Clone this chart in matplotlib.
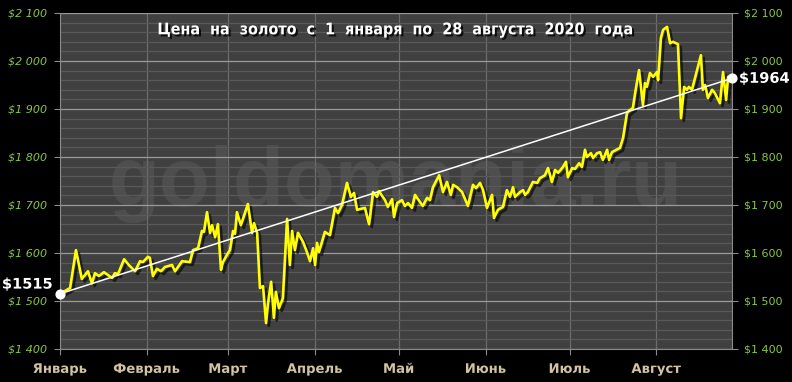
import numpy as np
import matplotlib
matplotlib.use("Agg")
import matplotlib.pyplot as plt
import matplotlib.patheffects as pe
from matplotlib.ticker import MultipleLocator, FuncFormatter

# days since 1 Jan 2020 and gold price, USD/oz
days = [0.0, 3.6, 5.7, 7.8, 10.0, 11.4, 12.5, 13.9, 15.7, 18.6, 19.6, 20.7, 22.9, 24.6,
        26.8, 28.6, 29.6, 31.4, 32.1, 33.2, 34.6, 36.1, 37.5, 40.0, 41.1, 43.6, 46.4,
        47.5, 49.3, 50.7, 51.4, 52.5, 53.6, 54.3, 55.4, 56.4, 57.5, 58.2, 60.0, 60.7,
        61.8, 62.5, 63.2, 64.6, 67.1, 68.6, 69.3, 70.4, 71.4, 72.5, 73.6, 74.3, 75.4,
        76.4, 77.1, 78.2, 79.6, 81.1, 82.1, 82.9, 83.9, 85.0, 86.8, 88.2, 89.3, 90.4,
        91.1, 91.8, 92.5, 94.6, 96.4, 98.2, 99.3, 100.7, 102.5, 103.9, 105.0, 106.1,
        108.9, 110.4, 111.8, 113.2, 113.9, 116.1, 117.1, 118.6, 119.3, 120.4, 122.1,
        123.2, 124.3, 125.7, 126.8, 128.6, 129.6, 131.1, 132.1, 133.2, 135.4, 136.8,
        138.2, 139.6, 140.4, 141.8, 143.6, 145.7, 147.5, 148.6, 150.0, 151.1, 152.5,
        154.3, 155.0, 156.4, 158.2, 159.6, 160.7, 161.8, 162.5, 164.3, 165.4, 166.1,
        167.1, 168.9, 170.4, 171.4, 173.2, 174.3, 175.7, 176.8, 177.9, 179.6, 180.7,
        181.4, 182.9, 183.9, 185.4, 186.4, 187.5, 188.2, 189.6, 190.4, 191.8, 192.9,
        193.9, 195.4, 196.1, 197.1, 200.0, 201.1, 202.5, 203.6, 204.6, 205.4, 206.8,
        208.2, 208.9, 209.6, 210.7, 211.8, 213.2, 213.6, 214.6, 215.4, 216.8, 217.9,
        218.9, 220.7, 221.8, 222.9, 223.9, 224.6, 225.7, 228.9, 229.6, 230.4, 231.4,
        232.9, 233.9, 235.7, 236.8, 237.9, 238.6, 239.3, 240.0]
price = [1515, 1527, 1606, 1546, 1562, 1537, 1558, 1552, 1560, 1548, 1558, 1556, 1587, 1575,
         1562, 1583, 1581, 1592, 1590, 1552, 1567, 1562, 1571, 1575, 1562, 1583, 1581,
         1606, 1610, 1646, 1644, 1685, 1642, 1658, 1633, 1660, 1565, 1581, 1600, 1606,
         1646, 1640, 1685, 1658, 1702, 1642, 1662, 1642, 1527, 1531, 1454, 1496, 1540,
         1465, 1519, 1485, 1506, 1671, 1575, 1646, 1606, 1642, 1623, 1602, 1583, 1610,
         1575, 1621, 1602, 1644, 1637, 1694, 1683, 1700, 1746, 1717, 1725, 1690,
         1694, 1660, 1727, 1717, 1729, 1710, 1696, 1712, 1675, 1704, 1710,
         1698, 1704, 1694, 1721, 1706, 1698, 1715, 1710, 1737, 1762, 1727,
         1748, 1721, 1742, 1737, 1727, 1698, 1742, 1735, 1746, 1731, 1694,
         1721, 1673, 1690, 1696, 1731, 1717, 1737, 1717, 1727, 1731, 1721,
         1727, 1748, 1746, 1756, 1762, 1777, 1748, 1773, 1767, 1779, 1790,
         1758, 1777, 1775, 1787, 1779, 1815, 1800, 1808, 1798, 1808, 1810,
         1794, 1815, 1794, 1810, 1819, 1840, 1892, 1898, 1902, 1933, 1981,
         1908, 1954, 1946, 1975, 1967, 1977, 1960, 2048, 2065, 2071, 2037,
         2040, 2035, 1881, 1946, 1940, 1946, 1940, 2012, 1940, 1950, 1923,
         1940, 1933, 1912, 1977, 1919, 1967, 1960, 1964]

month_start = [0, 31, 60, 91, 121, 152, 182, 213]
month_names = ["Январь", "Февраль", "Март", "Апрель", "Май", "Июнь", "Июль", "Август"]
start_price = 1515
end_price = 1964

fig = plt.figure(figsize=(7.92, 3.82), dpi=100, facecolor="black")
ax = fig.add_axes([60 / 792, 1 - 349 / 382, 672 / 792, 336 / 382])
ax.set_facecolor("#404040")
ax.set_xlim(0, 240)
ax.set_ylim(1400, 2100)

# grid
ax.yaxis.set_major_locator(MultipleLocator(100))
ax.yaxis.set_minor_locator(MultipleLocator(20))
ax.set_xticks(month_start)
ax.grid(axis="y", which="minor", color="#595959", lw=0.9)
ax.grid(axis="y", which="major", color="#9a9a9a", lw=0.9)
ax.grid(axis="x", which="major", color="#6c6c6c", lw=0.9)
ax.set_axisbelow(True)
for s in ["left", "right", "bottom"]:
    ax.spines[s].set_color("#8a8a8a")
ax.spines["top"].set_visible(False)

# watermark
ax.text(0.5, 0.49, "goldomania.ru", transform=ax.transAxes, ha="center", va="center",
        fontsize=60, fontweight="bold", family="Liberation Sans", color="#4e4e4e", zorder=0.5)

# title
ax.text(0.5, 0.95, "Цена  на  золото  с  1  января  по  28  августа  2020  года",
        transform=ax.transAxes, ha="center", va="center", fontsize=11.5, fontweight="bold",
        fontstretch="condensed", color="white",
        path_effects=[pe.withSimplePatchShadow(offset=(1.5, -1.5), shadow_rgbFace="black", alpha=0.8)])

# price line and trend
ax.plot(days, price, color="#ffff00", lw=1.9, zorder=3,
        path_effects=[pe.SimpleLineShadow(offset=(2, -2), shadow_color="black", alpha=0.6), pe.Normal()])
ax.plot([days[0], days[-1]], [start_price, end_price], color="white", lw=1.1, zorder=4)
ax.scatter([days[0], days[-1]], [start_price, end_price], s=40, color="white", zorder=5, clip_on=False)

lab_fx = [pe.withSimplePatchShadow(offset=(1.5, -1.5), shadow_rgbFace="black", alpha=0.9)]
ax.annotate(f"${start_price}", (days[0], start_price), xytext=(-5, 7), textcoords="offset points",
            ha="right", va="center", fontsize=10.5, fontweight="bold", color="white", path_effects=lab_fx,
            annotation_clip=False)
ax.annotate(f"${end_price}", (days[-1], end_price), xytext=(5, 0), textcoords="offset points",
            ha="left", va="center", fontsize=10.5, fontweight="bold", color="white", path_effects=lab_fx,
            annotation_clip=False)

# ticks
fmt = FuncFormatter(lambda v, p: "$" + f"{int(v):,}".replace(",", " "))
ax.yaxis.set_major_formatter(fmt)
ax.tick_params(axis="y", which="major", colors="#8a8a8a", length=4, labelsize=8,
               labelcolor="#8cc63f", left=True, right=True, labelleft=True, labelright=True, pad=5)
ax.tick_params(axis="y", which="minor", left=False, right=False)
for t in ax.yaxis.get_major_ticks():
    t.label1.set_fontstyle("italic")
ax.set_xticklabels(month_names)
ax.tick_params(axis="x", colors="#8a8a8a", length=4, labelsize=9.5, labelcolor="#d2c3a3", pad=6)
for t in ax.get_xticklabels():
    t.set_fontweight("bold")
    t.set_path_effects([pe.withSimplePatchShadow(offset=(1, -1), shadow_rgbFace="black", alpha=0.9)])

fig.savefig("out.png", dpi=100, facecolor="black")
